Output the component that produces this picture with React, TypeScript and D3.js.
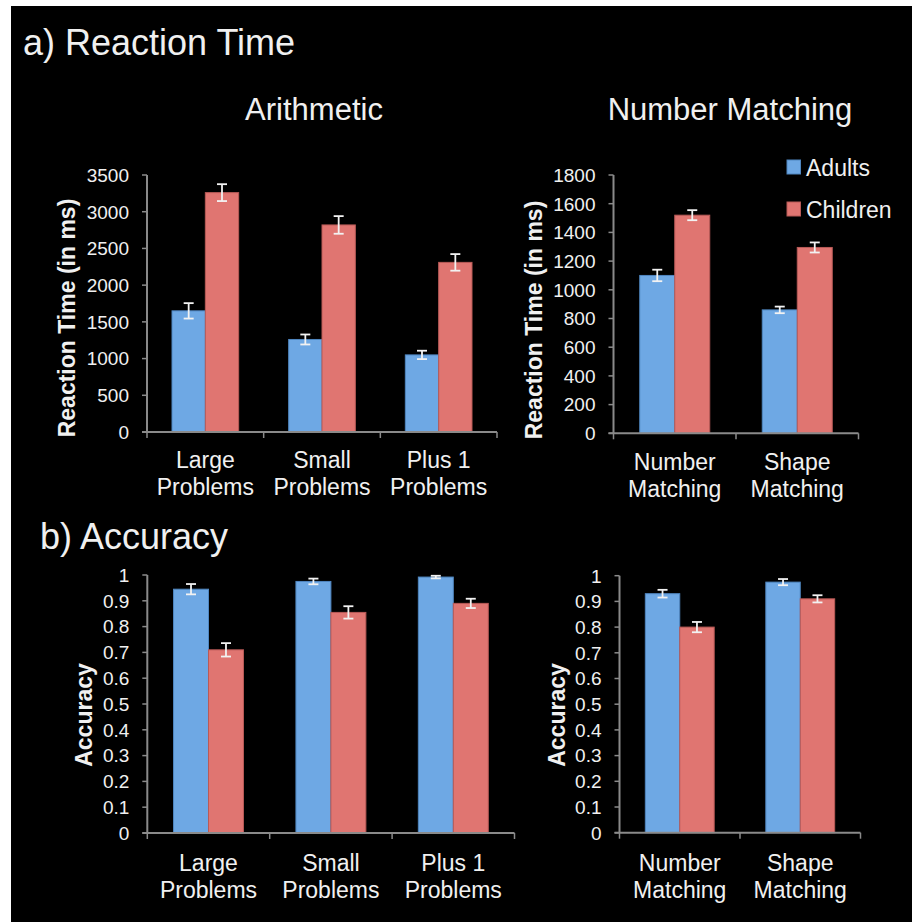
import React from "react";
import * as d3 from "d3";

const seriesNames = ["Adults", "Children"];
const arithCats = [["Large", "Problems"], ["Small", "Problems"], ["Plus 1", "Problems"]];
const matchCats = [["Number", "Matching"], ["Shape", "Matching"]];

const rtArithAdults = [1650, 1260, 1050];
const rtArithAdultsErr = [105, 68, 57];
const rtArithChildren = [3260, 2820, 2310];
const rtArithChildrenErr = [115, 120, 113];

const rtMatchAdults = [1100, 860];
const rtMatchAdultsErr = [40, 23];
const rtMatchChildren = [1520, 1295];
const rtMatchChildrenErr = [35, 35];

const accArithAdults = [0.945, 0.975, 0.992];
const accArithAdultsErr = [0.02, 0.011, 0.005];
const accArithChildren = [0.71, 0.855, 0.89];
const accArithChildrenErr = [0.026, 0.024, 0.018];

const accMatchAdults = [0.93, 0.975];
const accMatchAdultsErr = [0.015, 0.012];
const accMatchChildren = [0.8, 0.91];
const accMatchChildrenErr = [0.02, 0.014];

const rtArithTicks = [0, 500, 1000, 1500, 2000, 2500, 3000, 3500];
const rtMatchTicks = [0, 200, 400, 600, 800, 1000, 1200, 1400, 1600, 1800];
const accTicks = [0, 0.1, 0.2, 0.3, 0.4, 0.5, 0.6, 0.7, 0.8, 0.9, 1];

const BLUE = "#6ea8e4";
const RED = "#e07571";
const BLUE_EDGE = "#4f86c0";
const RED_EDGE = "#b85a57";
const AXIS = "#8a8a8a";
const TEXT = "#f0f0f0";
const FONT = "'Liberation Sans', Arial, Helvetica, sans-serif";

type PanelProps = {
  x0: number; x1: number; yTop: number; yZero: number;
  max: number; ticks: number[]; fmt: (v: number) => string;
  cats: string[][];
  adults: number[]; adultsErr: number[];
  children: number[]; childrenErr: number[];
  yTitle: string; yTitleX: number; yTitleY: number;
  catY: number;
};

function Panel(p: PanelProps) {
  const y = d3.scaleLinear().domain([0, p.max]).range([p.yZero, p.yTop]);
  const catKeys = p.cats.map((c) => c.join(" "));
  const x = d3.scaleBand<string>().domain(catKeys).range([p.x0, p.x1]).padding(0);
  const inner = d3.scaleBand<string>().domain(seriesNames).range([0, x.bandwidth()]).paddingInner(0).paddingOuter(0.75);
  const series = [
    { name: "Adults", vals: p.adults, errs: p.adultsErr, fill: BLUE, edge: BLUE_EDGE },
    { name: "Children", vals: p.children, errs: p.childrenErr, fill: RED, edge: RED_EDGE },
  ];
  const bw = inner.bandwidth();
  const cap = 5;
  const boundaries = d3.range(catKeys.length + 1).map((i) => p.x0 + i * x.bandwidth());
  return (
    <g>
      {series.map((s) =>
        s.vals.map((v, i) => {
          const bx = (x(catKeys[i]) as number) + (inner(s.name) as number);
          return (
            <rect key={s.name + i} x={bx} y={y(v)} width={bw} height={p.yZero - y(v)}
              fill={s.fill} stroke={s.edge} strokeWidth={1} />
          );
        })
      )}
      {series.map((s) =>
        s.vals.map((v, i) => {
          const cx = (x(catKeys[i]) as number) + (inner(s.name) as number) + bw / 2;
          const hi = y(v + s.errs[i]);
          const lo = y(v - s.errs[i]);
          return (
            <g key={"e" + s.name + i} stroke="#f2f2f2" strokeWidth={1.8}>
              <line x1={cx} x2={cx} y1={hi} y2={lo} />
              <line x1={cx - cap} x2={cx + cap} y1={hi} y2={hi} />
              <line x1={cx - cap} x2={cx + cap} y1={lo} y2={lo} />
            </g>
          );
        })
      )}
      {/* y axis */}
      <line x1={p.x0} x2={p.x0} y1={p.yTop} y2={p.yZero} stroke={AXIS} strokeWidth={2} />
      {p.ticks.map((t) => (
        <g key={"t" + t}>
          <line x1={p.x0 - 5} x2={p.x0} y1={y(t)} y2={y(t)} stroke={AXIS} strokeWidth={1.5} />
          <text x={p.x0 - 18} y={y(t)} dy="0.36em" textAnchor="end" fill={TEXT}
            fontSize={19} fontFamily={FONT}>{p.fmt(t)}</text>
        </g>
      ))}
      {/* x axis */}
      <line x1={p.x0 - 5} x2={p.x1} y1={p.yZero} y2={p.yZero} stroke={AXIS} strokeWidth={2} />
      {boundaries.map((bx, i) => (
        <line key={"b" + i} x1={bx} x2={bx} y1={p.yZero} y2={p.yZero + 6} stroke={AXIS} strokeWidth={1.5} />
      ))}
      {p.cats.map((c, i) => {
        const cx = (x(catKeys[i]) as number) + x.bandwidth() / 2;
        return (
          <text key={"c" + i} x={cx} y={p.catY} textAnchor="middle" fill={TEXT} fontSize={23} fontFamily={FONT}>
            <tspan x={cx}>{c[0]}</tspan>
            <tspan x={cx} dy={26.5}>{c[1]}</tspan>
          </text>
        );
      })}
      <text transform={`translate(${p.yTitleX},${p.yTitleY}) rotate(-90)`} textAnchor="middle"
        fill={TEXT} fontSize={23} fontWeight="bold" fontFamily={FONT}>{p.yTitle}</text>
    </g>
  );
}

export default function App() {
  const fmtInt = (v: number) => d3.format("d")(v);
  const fmtAcc = (v: number) => (v === 0 ? "0" : v === 1 ? "1" : d3.format(".1f")(v));
  return (
    <svg width={912} height={922} style={{ position: "absolute", left: 0, top: 0, background: "#fff" }}>
      <rect x={11} y={6} width={901} height={916} fill="#000" />
      <text x={23} y={55} fill={TEXT} fontSize={36} fontFamily={FONT}>a) Reaction Time</text>
      <text x={40} y={549} fill={TEXT} fontSize={36} fontFamily={FONT}>b) Accuracy</text>
      <text x={314} y={120} textAnchor="middle" fill={TEXT} fontSize={31} fontFamily={FONT}>Arithmetic</text>
      <text x={730} y={120} textAnchor="middle" fill={TEXT} fontSize={31} fontFamily={FONT}>Number Matching</text>

      {/* legend */}
      {seriesNames.map((n, i) => (
        <g key={n}>
          <rect x={787} y={160 + i * 42} width={13.5} height={14} fill={i === 0 ? BLUE : RED}
            stroke={i === 0 ? BLUE_EDGE : RED_EDGE} strokeWidth={1} />
          <text x={806} y={176 + i * 42} fill={TEXT} fontSize={23} fontFamily={FONT}>{n}</text>
        </g>
      ))}

      <Panel x0={147} x1={497} yTop={175} yZero={432} max={3500} ticks={rtArithTicks} fmt={fmtInt}
        cats={arithCats} adults={rtArithAdults} adultsErr={rtArithAdultsErr}
        children={rtArithChildren} childrenErr={rtArithChildrenErr}
        yTitle="Reaction Time (in ms)" yTitleX={75} yTitleY={318} catY={468} />
      <Panel x0={613.5} x1={858.5} yTop={175} yZero={433.3} max={1800} ticks={rtMatchTicks} fmt={fmtInt}
        cats={matchCats} adults={rtMatchAdults} adultsErr={rtMatchAdultsErr}
        children={rtMatchChildren} childrenErr={rtMatchChildrenErr}
        yTitle="Reaction Time (in ms)" yTitleX={541.5} yTitleY={320} catY={470} />
      <Panel x0={147.3} x1={514.5} yTop={575} yZero={833} max={1} ticks={accTicks} fmt={fmtAcc}
        cats={arithCats} adults={accArithAdults} adultsErr={accArithAdultsErr}
        children={accArithChildren} childrenErr={accArithChildrenErr}
        yTitle="Accuracy" yTitleX={91.5} yTitleY={715} catY={871} />
      <Panel x0={619.5} x1={860.5} yTop={575.7} yZero={832.7} max={1} ticks={accTicks} fmt={fmtAcc}
        cats={matchCats} adults={accMatchAdults} adultsErr={accMatchAdultsErr}
        children={accMatchChildren} childrenErr={accMatchChildrenErr}
        yTitle="Accuracy" yTitleX={565} yTitleY={715} catY={871} />
    </svg>
  );
}
